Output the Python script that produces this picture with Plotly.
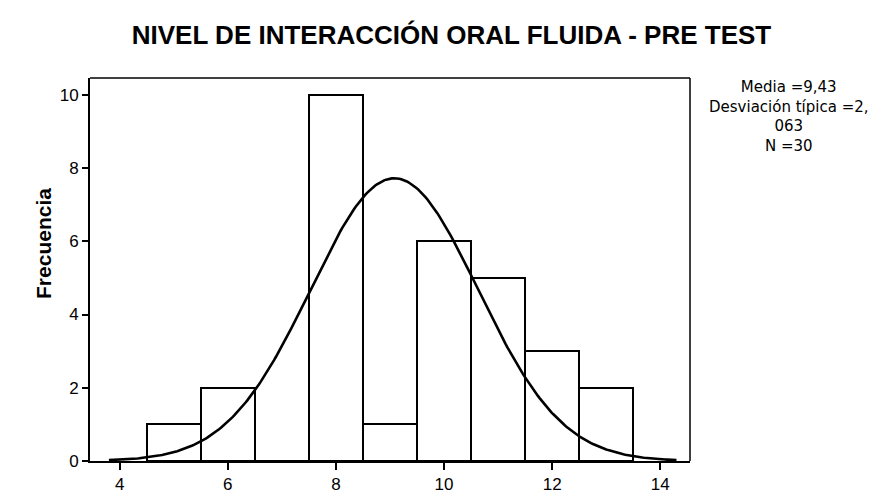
import numpy as np
import plotly.graph_objects as go

# histogram bins (class centres) and their frequencies
bin_centers = [5, 6, 7, 8, 9, 10, 11, 12, 13]
frequencies = [1, 2, 0, 10, 1, 6, 5, 3, 2]

# normal curve drawn by the chart
curve_center = 9.08
curve_sd = 1.55
curve_n = 30
curve_from, curve_to = 3.8, 14.3

x_ticks = [4, 6, 8, 10, 12, 14]
y_ticks = [0, 2, 4, 6, 8, 10]

stats_lines = ["Media =9,43", "Desviación típica =2,", "063", "N =30"]

xs = np.linspace(curve_from, curve_to, 300)
ys = curve_n / (curve_sd * np.sqrt(2 * np.pi)) * np.exp(-0.5 * ((xs - curve_center) / curve_sd) ** 2)

bars = go.Bar(
    x=bin_centers,
    y=frequencies,
    width=1,
    marker=dict(color="white", line=dict(color="black", width=2)),
    showlegend=False,
    hoverinfo="x+y",
)

curve = go.Scatter(
    x=xs,
    y=ys,
    mode="lines",
    line=dict(color="black", width=2.6),
    showlegend=False,
    hoverinfo="skip",
)

fig = go.Figure(data=[bars, curve])

fig.update_layout(
    width=887,
    height=498,
    margin=dict(l=82, r=205, t=70, b=36),
    plot_bgcolor="white",
    paper_bgcolor="white",
    font=dict(family="Liberation Sans, Arial, sans-serif", color="black"),
    title=dict(
        text="<b>NIVEL DE INTERACCIÓN ORAL FLUIDA - PRE TEST</b>",
        x=0.5,
        xanchor="center",
        y=0.945,
        yanchor="middle",
        font=dict(size=26, color="black"),
    ),
    xaxis=dict(
        range=[3.45, 14.55],
        tickvals=x_ticks,
        ticks="outside",
        ticklen=7,
        tickwidth=2,
        tickcolor="black",
        showgrid=False,
        zeroline=False,
        showline=True,
        linecolor="black",
        linewidth=2,
        tickfont=dict(size=17),
    ),
    yaxis=dict(
        range=[0, 10.46],
        tickvals=y_ticks,
        ticks="outside",
        ticklen=6,
        tickwidth=1.5,
        tickcolor="black",
        showgrid=False,
        zeroline=False,
        showline=True,
        linecolor="black",
        linewidth=2,
        tickfont=dict(size=17),
    ),
    bargap=0,
)

# thinner top/right frame
fig.add_shape(type="line", xref="paper", yref="paper", x0=0, x1=1, y0=1, y1=1,
              line=dict(color="black", width=1.5))
fig.add_shape(type="line", xref="paper", yref="paper", x0=1, x1=1, y0=0, y1=1,
              line=dict(color="black", width=1.5))

# y axis title
fig.add_annotation(
    text="<b>Frecuencia</b>",
    xref="paper", yref="paper",
    x=-0.1, y=0.568,
    textangle=-90,
    showarrow=False,
    font=dict(size=21),
)

# statistics box text
fig.add_annotation(
    text="<br>".join(stats_lines),
    xref="paper", yref="paper",
    x=1.165, y=0.9,
    xanchor="center", yanchor="middle",
    align="center",
    showarrow=False,
    font=dict(size=15, family="DejaVu Sans"),
)

fig.write_html("out.html")
